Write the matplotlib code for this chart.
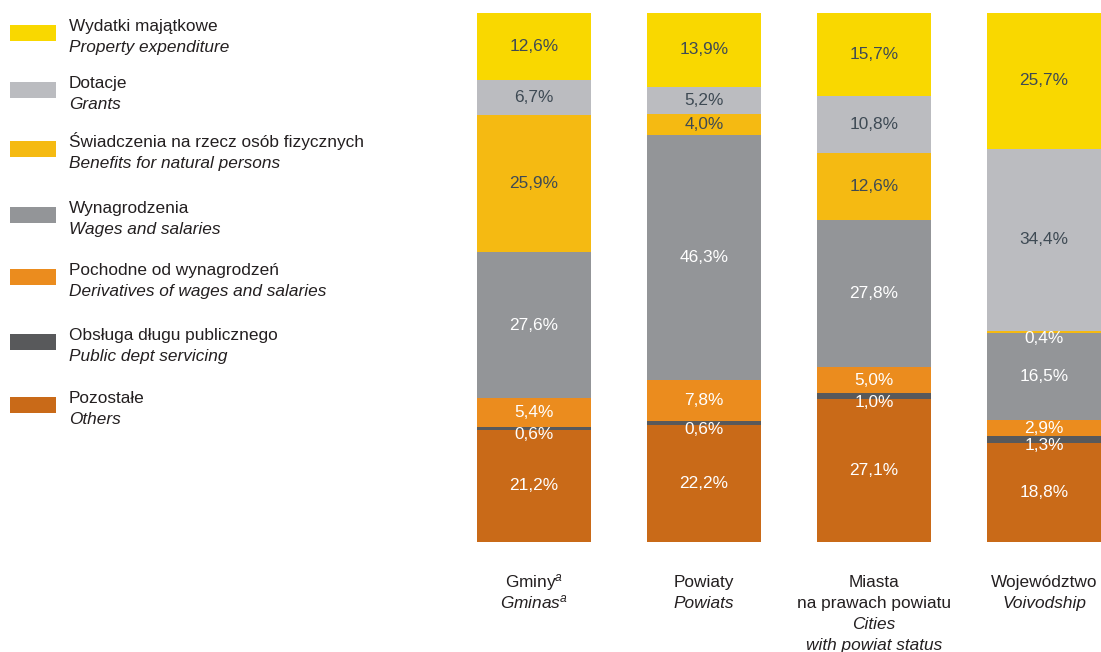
import matplotlib
matplotlib.use('Agg')
import matplotlib.pyplot as plt
from matplotlib import font_manager
from matplotlib.patches import Rectangle
from matplotlib.transforms import blended_transform_factory

# Pick a narrow font if there is one
names = set(f.name for f in font_manager.fontManager.ttflist)
font = 'Liberation Sans Narrow' if 'Liberation Sans Narrow' in names else 'Liberation Sans'
plt.rcParams['font.family'] = [font, 'DejaVu Sans']
plt.rcParams['mathtext.fontset'] = 'custom'
plt.rcParams['mathtext.rm'] = font
plt.rcParams['mathtext.it'] = font + ':italic'

# Data (shares of expenditure, %)
categories_pl = ['Gminy$^{a}$', 'Powiaty', 'Miasta\nna prawach powiatu', 'Województwo']
categories_en = ['Gminas$^{a}$', 'Powiats', 'Cities\nwith powiat status', 'Voivodship']

series_pl = ['Wydatki majątkowe', 'Dotacje', 'Świadczenia na rzecz osób fizycznych',
             'Wynagrodzenia', 'Pochodne od wynagrodzeń', 'Obsługa długu publicznego', 'Pozostałe']
series_en = ['Property expenditure', 'Grants', 'Benefits for natural persons',
             'Wages and salaries', 'Derivatives of wages and salaries', 'Public dept servicing', 'Others']

property_exp = [12.6, 13.9, 15.7, 25.7]
grants = [6.7, 5.2, 10.8, 34.4]
benefits = [25.9, 4.0, 12.6, 0.4]
wages = [27.6, 46.3, 27.8, 16.5]
derivatives = [5.4, 7.8, 5.0, 2.9]
debt = [0.6, 0.6, 1.0, 1.3]
others = [21.2, 22.2, 27.1, 18.8]

colors = ['#F9D800', '#BBBCC0', '#F5BA12', '#939598', '#EB8C1E', '#58595B', '#C96A18']
dark_text = '#3E4A54'
txt = '#231F20'
fs = 12.4

values = [property_exp, grants, benefits, wages, derivatives, debt, others]

fig = plt.figure(figsize=(11.01, 6.52), dpi=100)
ax = fig.add_axes([477 / 1101, 110 / 652, 624 / 1101, 529 / 652])

x = list(range(len(categories_pl)))
width = 0.67
bottoms = [0.0] * len(x)
# stack from the bottom: Others first, Property expenditure on top
for idx in range(len(values) - 1, -1, -1):
    vals = values[idx]
    ax.bar(x, vals, width, bottom=bottoms, color=colors[idx], linewidth=0)
    for i, v in enumerate(vals):
        y = bottoms[i] + v / 2
        if v < 2:
            y -= 1.2
        col = dark_text if (idx < 3 and v >= 1) else 'white'
        ax.text(x[i], y, f'{v:.1f}%'.replace('.', ','), ha='center', va='center',
                fontsize=fs, color=col)
    bottoms = [b + v for b, v in zip(bottoms, vals)]

ax.set_xlim(-width / 2, len(x) - 1 + width / 2)
ax.set_ylim(0, 100)
ax.axis('off')

# category labels under the bars
tr = blended_transform_factory(ax.transData, fig.transFigure)
for i in x:
    lines = [(s, 'normal') for s in categories_pl[i].split('\n')] + \
            [(s, 'italic') for s in categories_en[i].split('\n')]
    ypix = 587
    for line, st in lines:
        fig.text(i, 1 - ypix / 652, line, transform=tr, ha='center', va='baseline',
                 fontsize=fs, color=txt, style=st)
        ypix += 21

# legend on the left
legend_y = [33, 90, 149, 215, 277, 342, 405]
for k in range(len(series_pl)):
    yc = legend_y[k]
    fig.patches.append(Rectangle((10 / 1101, 1 - (yc + 8) / 652), 46 / 1101, 16 / 652,
                                 transform=fig.transFigure, color=colors[k], linewidth=0))
    fig.text(69 / 1101, 1 - (yc - 2) / 652, series_pl[k], ha='left', va='baseline',
             fontsize=fs, color=txt)
    fig.text(69 / 1101, 1 - (yc + 19) / 652, series_en[k], ha='left', va='baseline',
             fontsize=fs, color=txt, style='italic')

fig.savefig('out.png', dpi=100)
